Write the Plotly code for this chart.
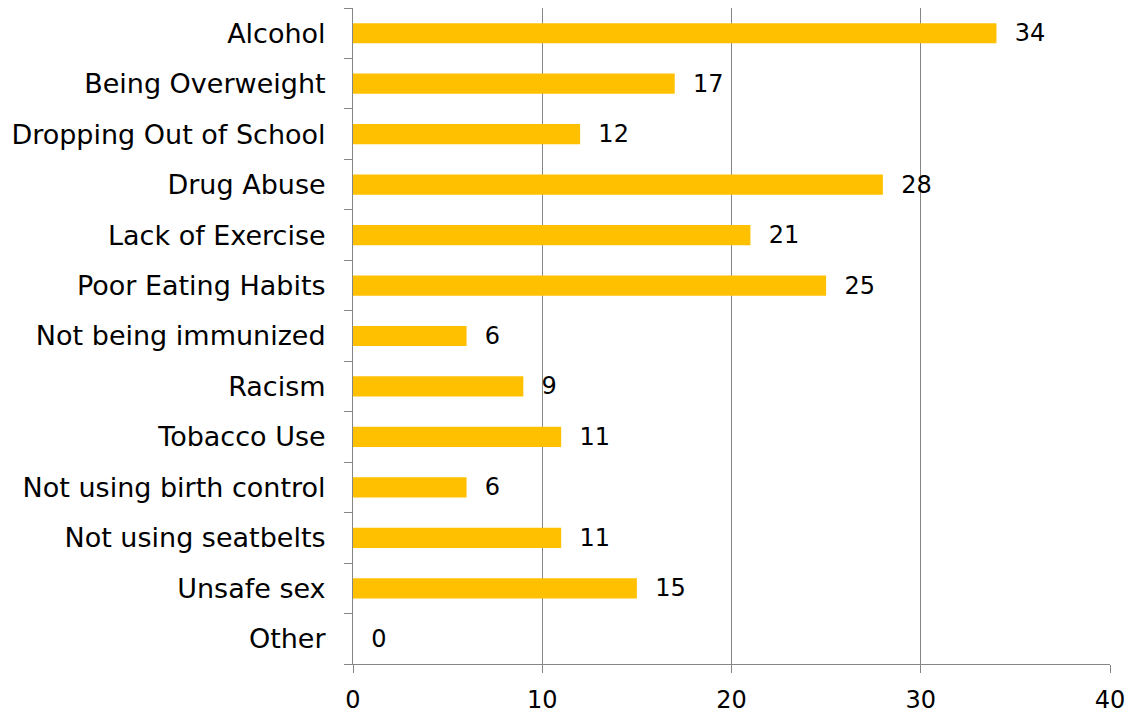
import plotly.graph_objects as go

# categories top to bottom
categories = ["Alcohol", "Being Overweight", "Dropping Out of School", "Drug Abuse",
              "Lack of Exercise", "Poor Eating Habits", "Not being immunized", "Racism",
              "Tobacco Use", "Not using birth control", "Not using seatbelts",
              "Unsafe sex", "Other"]
counts = [34, 17, 12, 28, 21, 25, 6, 9, 11, 6, 11, 15, 0]
x_ticks = [0, 10, 20, 30, 40]

font_name = "DejaVu Sans"

fig = go.Figure(go.Bar(
    y=categories,
    x=counts,
    orientation="h",
    width=0.4,
    marker=dict(color="#FFC000", line=dict(width=0)),
    text=["  " + str(v) for v in counts],
    textposition="outside",
    constraintext="none",
    cliponaxis=False,
    textfont=dict(family=font_name, size=24, color="#000000"),
))

# page body adds an 8px offset, margins account for it
fig.update_layout(
    width=1138, height=715,
    margin=dict(l=345, r=36, t=0, b=59),
    plot_bgcolor="white",
    paper_bgcolor="white",
    showlegend=False,
    font=dict(family=font_name, size=24, color="#000000"),
)

fig.update_xaxes(
    range=[0, 40],
    tickvals=x_ticks,
    showgrid=True, gridcolor="#868686", gridwidth=1,
    showline=True, linecolor="#868686", linewidth=1,
    ticks="outside", ticklen=8, tickcolor="#868686",
    zeroline=False,
    ticklabelstandoff=6,
    tickfont=dict(size=24),
)

fig.update_yaxes(
    type="category",
    categoryorder="array",
    categoryarray=categories[::-1],
    tickson="boundaries",
    ticks="outside", ticklen=8, tickcolor="#868686",
    showline=True, linecolor="#868686", linewidth=1,
    showgrid=False,
    ticklabelstandoff=21,
    tickfont=dict(size=27),
)

fig.write_html("out.html")
